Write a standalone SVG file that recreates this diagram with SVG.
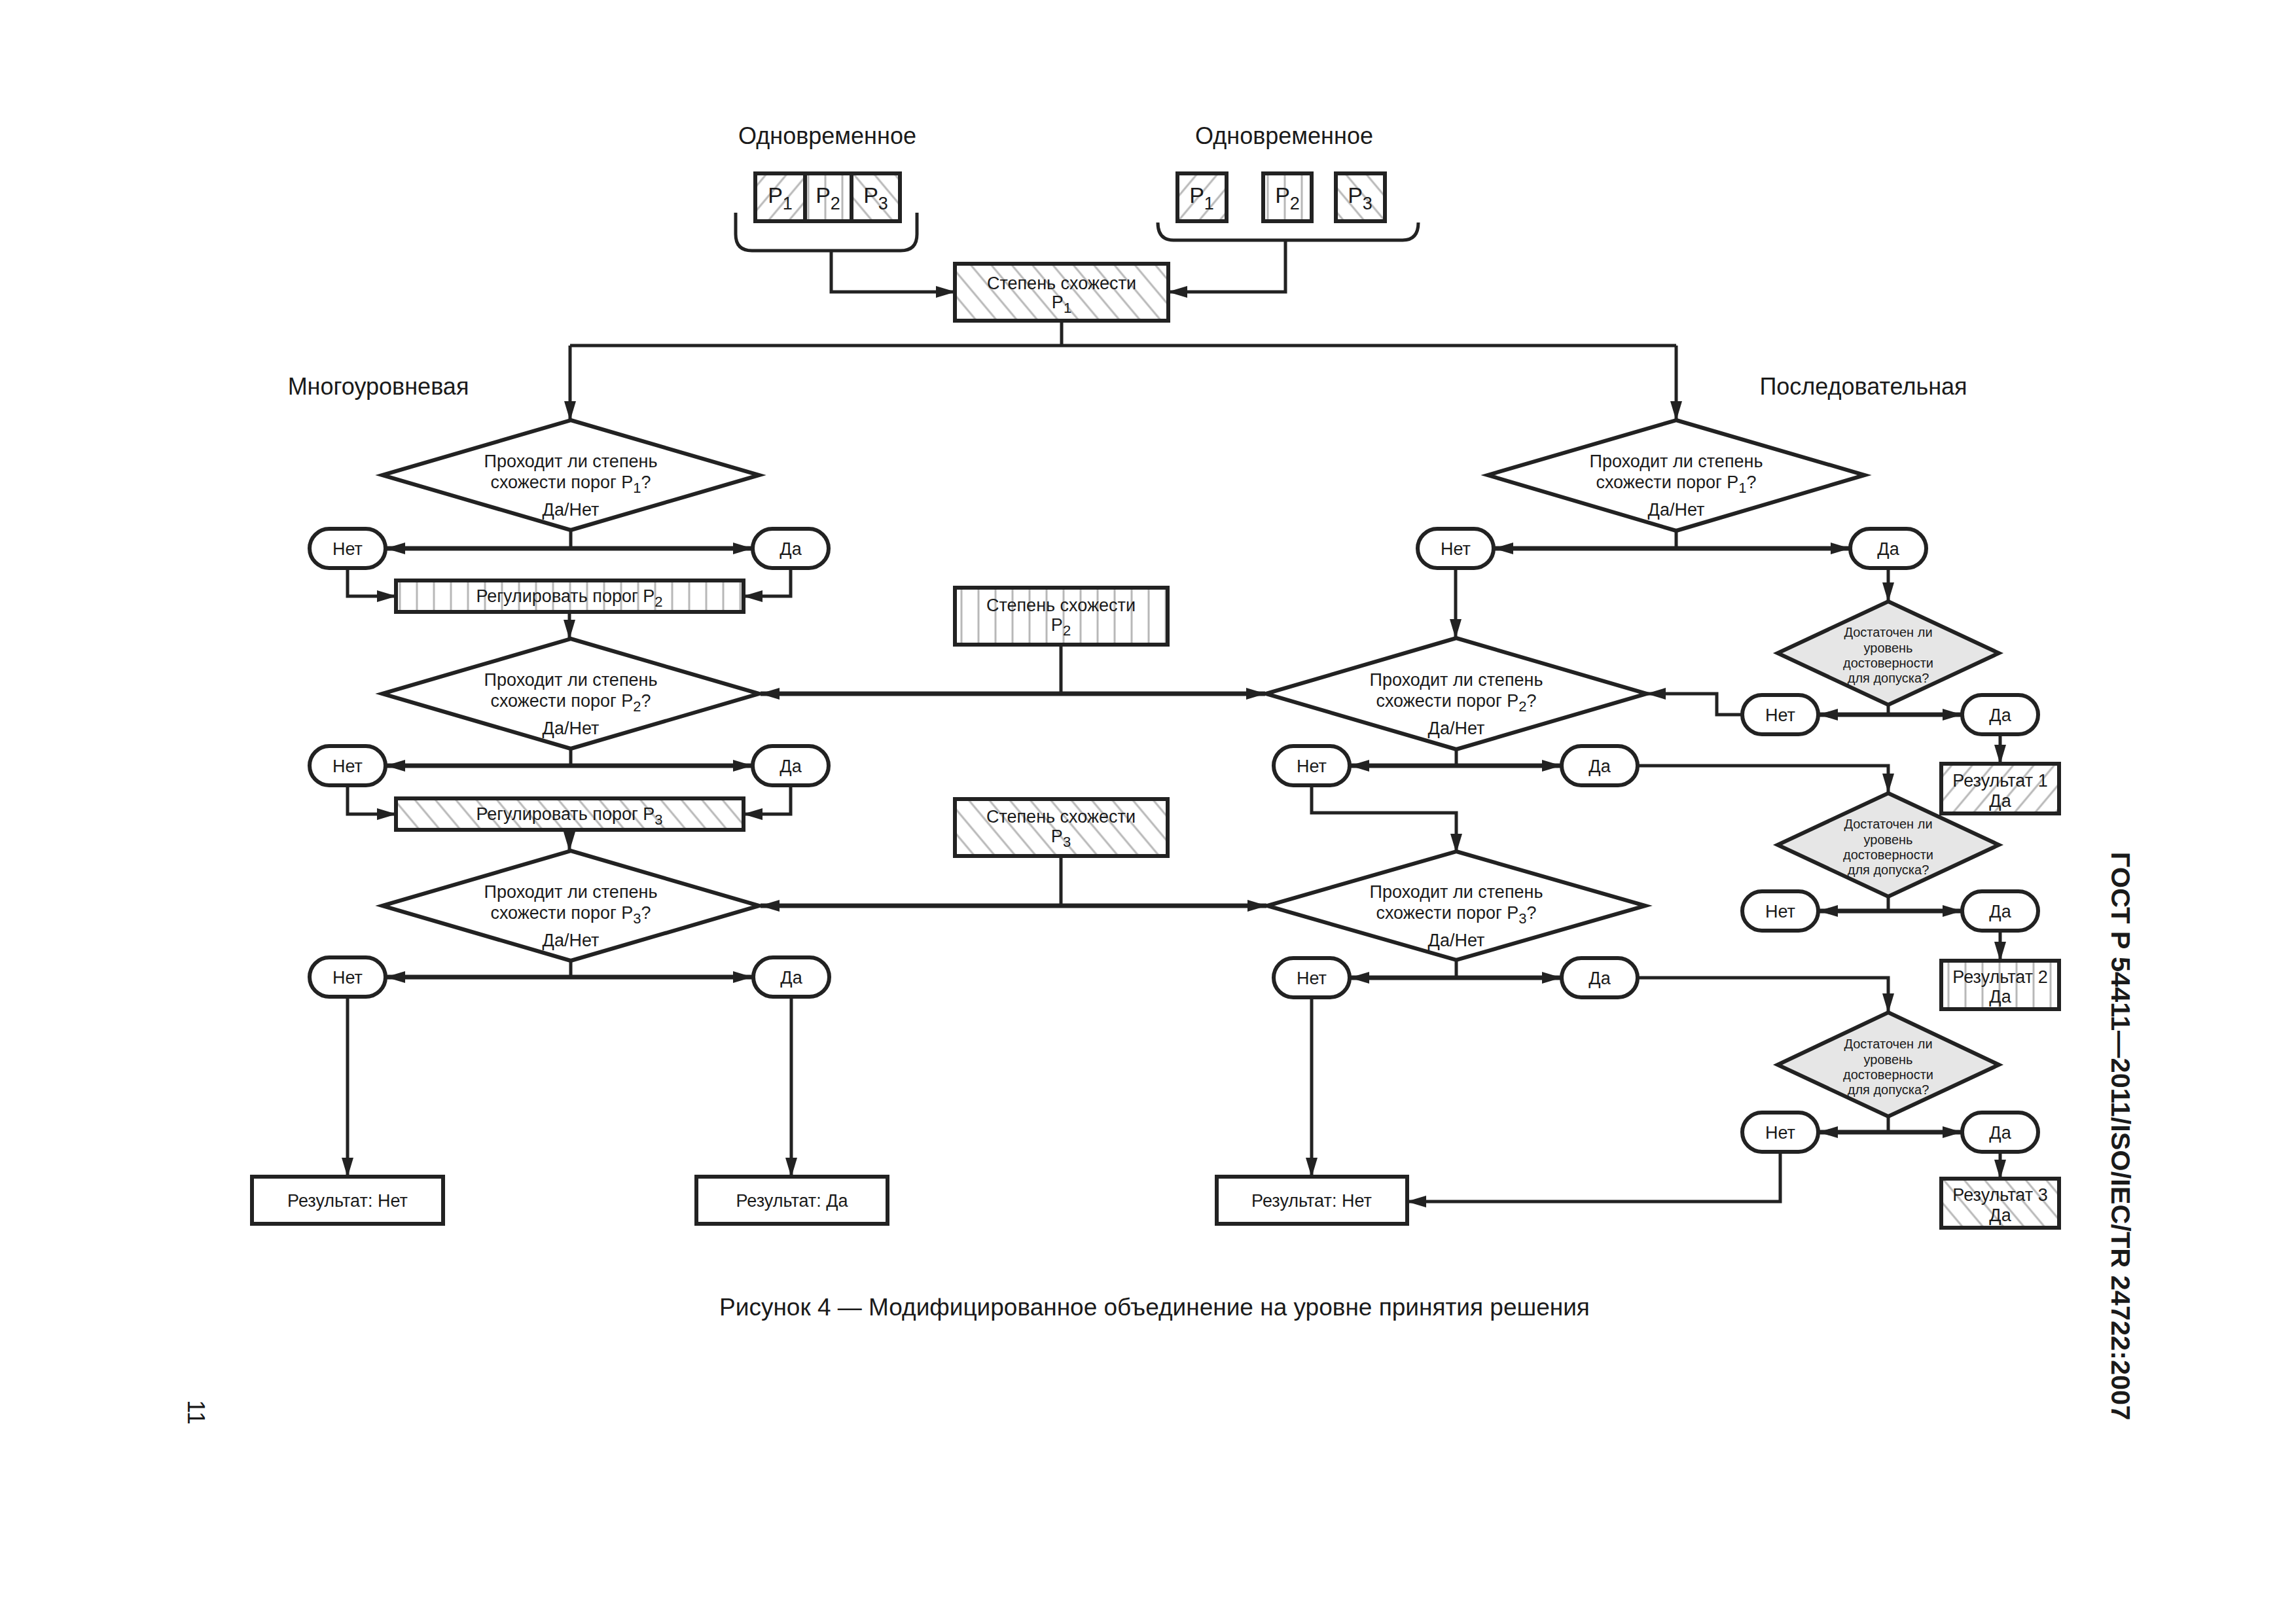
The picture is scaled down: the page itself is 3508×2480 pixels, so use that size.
<svg xmlns="http://www.w3.org/2000/svg" width="3508" height="2480" viewBox="0 0 3508 2480">
<style>
.sh{fill:#fff;stroke:#222;stroke-width:6}
.g{fill:#e6e6e6;stroke:#222;stroke-width:6}
.ln{fill:none;stroke:#222;stroke-width:5}
.lt{fill:none;stroke:#222;stroke-width:7}
.ar{marker-end:url(#ah)}
.ab{marker-start:url(#ah);marker-end:url(#ah)}
text{font-family:"Liberation Sans",Arial,sans-serif;fill:#1a1a1a}
.t{font-size:27px;text-anchor:middle}
.s{font-size:20px;text-anchor:middle}
.h{font-size:36px;text-anchor:middle}
.p{font-size:34px;text-anchor:middle}
.sub{font-size:22px}
.psub{font-size:27px}
</style>
<defs>
<marker id="ah" markerUnits="userSpaceOnUse" markerWidth="30" markerHeight="18" refX="29" refY="9" orient="auto-start-reverse"><path d="M0,0 L30,9 L0,18 z" fill="#222"/></marker>
<pattern id="hV" width="26" height="10" patternUnits="userSpaceOnUse"><line x1="13" y1="-1" x2="13" y2="11" stroke="#b8b8b8" stroke-width="3"/></pattern>
<pattern id="hF" width="24" height="24" patternUnits="userSpaceOnUse" patternTransform="rotate(40)"><line x1="12" y1="-1" x2="12" y2="25" stroke="#b8b8b8" stroke-width="3"/></pattern>
<pattern id="hB" width="24" height="24" patternUnits="userSpaceOnUse" patternTransform="rotate(-40)"><line x1="12" y1="-1" x2="12" y2="25" stroke="#b8b8b8" stroke-width="3"/></pattern>
</defs>
<rect width="3508" height="2480" fill="#fff"/>

<g id="labels">
<text class="h" x="1264" y="220">Одновременное</text>
<text class="h" x="1962" y="220">Одновременное</text>
<text class="h" x="578" y="603">Многоуровневая</text>
<text class="h" x="2847" y="603">Последовательная</text>
<text x="1764" y="2010" style="font-size:37px;text-anchor:middle">Рисунок 4 — Модифицированное объединение на уровне принятия решения</text>
<text transform="translate(3226,1736) rotate(90)" style="font-size:41.5px;font-weight:bold;text-anchor:middle">ГОСТ Р 54411—2011/ISO/IEC/TR 24722:2007</text>
<text transform="translate(287,2158) rotate(90)" style="font-size:36px;text-anchor:middle">11</text>
</g>

<g id="connectors">
<path class="ln" d="M1124,325 V358 Q1124,383 1149,383 H1376 Q1401,383 1401,358 V325"/>
<path class="ln" d="M1769,340 Q1769,367 1793,367 H2143 Q2167,367 2167,340"/>
<path class="ln ar" d="M1270,383 V446 H1459"/>
<path class="ln ar" d="M1964,367 V446 H1785"/>
<path class="ln" d="M1622,490 V528 M871,528 H2561"/>
<path class="ln ar" d="M871,528 V642"/>
<path class="ln ar" d="M2561,528 V642"/>

<path class="ln" d="M872,810 V838"/>
<path class="lt ab" d="M590,838 H1149"/>
<path class="ln ar" d="M531,868 V911 H605"/>
<path class="ln ar" d="M1208,868 V911 H1136"/>
<path class="ln ar" d="M870,935 V976"/>
<path class="ln" d="M872,1144 V1170"/>
<path class="lt ab" d="M590,1170 H1149"/>
<path class="ln ar" d="M531,1200 V1244 H605"/>
<path class="ln ar" d="M1208,1200 V1244 H1136"/>
<path class="ln ar" d="M870,1268 V1300"/>
<path class="ln" d="M872,1468 V1493"/>
<path class="lt ab" d="M590,1493 H1149"/>
<path class="ln ar" d="M531,1523 V1798"/>
<path class="ln ar" d="M1209,1523 V1798"/>

<path class="ln" d="M1621,985 V1060"/>
<path class="lt ab" d="M1162,1060 H1933"/>
<path class="ln" d="M1621,1308 V1384"/>
<path class="lt ab" d="M1162,1384 H1935"/>

<path class="ln" d="M2561,811 V838"/>
<path class="lt ab" d="M2283,838 H2826"/>
<path class="ln ar" d="M2224,868 V975"/>
<path class="ln ar" d="M2885,868 V919"/>
<path class="ln" d="M2885,1077 V1092"/>
<path class="lt ab" d="M2779,1092 H2997"/>
<path class="ln ar" d="M2662,1092 H2623 V1060 H2516"/>
<path class="ln ar" d="M3056,1122 V1167"/>
<path class="ln" d="M2225,1145 V1170"/>
<path class="lt ab" d="M2063,1170 H2385"/>
<path class="ln ar" d="M2502,1170 H2885 V1211"/>
<path class="ln ar" d="M2004,1200 V1242 H2225 V1303"/>
<path class="ln" d="M2885,1370 V1392"/>
<path class="lt ab" d="M2779,1392 H2997"/>
<path class="ln ar" d="M3056,1422 V1468"/>
<path class="ln" d="M2225,1467 V1494"/>
<path class="lt ab" d="M2063,1494 H2385"/>
<path class="ln ar" d="M2502,1494 H2885 V1547"/>
<path class="ln ar" d="M2004,1524 V1798"/>
<path class="ln" d="M2885,1706 V1730"/>
<path class="lt ab" d="M2779,1730 H2997"/>
<path class="ln ar" d="M2720,1760 V1836 H2150"/>
<path class="ln ar" d="M3056,1760 V1801"/>
</g>

<g id="sim-left">
<rect x="1154" y="265" width="76" height="73" class="sh" style="fill:url(#hF)"/>
<rect x="1230" y="265" width="71" height="73" class="sh" style="fill:url(#hV)"/>
<rect x="1301" y="265" width="74" height="73" class="sh" style="fill:url(#hB)"/>
<text class="p" x="1192" y="310">P<tspan class="psub" dy="10">1</tspan></text>
<text class="p" x="1265" y="310">P<tspan class="psub" dy="10">2</tspan></text>
<text class="p" x="1338" y="310">P<tspan class="psub" dy="10">3</tspan></text>
</g>
<g id="sim-right">
<rect x="1799" y="265" width="75" height="73" class="sh" style="fill:url(#hF)"/>
<rect x="1930" y="265" width="74" height="73" class="sh" style="fill:url(#hV)"/>
<rect x="2041" y="265" width="75" height="73" class="sh" style="fill:url(#hB)"/>
<text class="p" x="1836" y="310">P<tspan class="psub" dy="10">1</tspan></text>
<text class="p" x="1967" y="310">P<tspan class="psub" dy="10">2</tspan></text>
<text class="p" x="2078" y="310">P<tspan class="psub" dy="10">3</tspan></text>
</g>

<g id="score-p1">
<rect x="1459" y="403" width="326" height="87" class="sh" style="fill:url(#hB)"/>
<text class="t" x="1622" y="442">Степень схожести</text>
<text class="t" x="1622" y="471">P<tspan class="sub" dy="7">1</tspan></text>
</g>
<g id="score-p2">
<rect x="1459" y="898" width="325" height="87" class="sh" style="fill:url(#hV)"/>
<text class="t" x="1621" y="934">Степень схожести</text>
<text class="t" x="1621" y="964">P<tspan class="sub" dy="7">2</tspan></text>
</g>
<g id="score-p3">
<rect x="1459" y="1221" width="325" height="87" class="sh" style="fill:url(#hB)"/>
<text class="t" x="1621" y="1257">Степень схожести</text>
<text class="t" x="1621" y="1287">P<tspan class="sub" dy="7">3</tspan></text>
</g>

<g id="L-d1">
<polygon class="sh" points="872,642 1160,726 872,810 584,726"/>
<text class="t" x="872" y="714">Проходит ли степень</text>
<text class="t" x="872" y="746">схожести порог P<tspan class="sub" dy="7">1</tspan><tspan dy="-7">?</tspan></text>
<text class="t" x="872" y="788">Да/Нет</text>
</g>
<g id="L-no1"><rect class="sh" x="473" y="808" width="116" height="60" rx="30"/><text class="t" x="531" y="848">Нет</text></g>
<g id="L-yes1"><rect class="sh" x="1150" y="808" width="116" height="60" rx="30"/><text class="t" x="1208" y="848">Да</text></g>
<g id="L-adj2">
<rect x="605" y="887" width="531" height="48" class="sh" style="fill:url(#hV)"/>
<text class="t" x="870" y="920">Регулировать порог P<tspan class="sub" dy="7">2</tspan></text>
</g>
<g id="L-d2">
<polygon class="sh" points="872,976 1160,1060 872,1144 584,1060"/>
<text class="t" x="872" y="1048">Проходит ли степень</text>
<text class="t" x="872" y="1080">схожести порог P<tspan class="sub" dy="7">2</tspan><tspan dy="-7">?</tspan></text>
<text class="t" x="872" y="1122">Да/Нет</text>
</g>
<g id="L-no2"><rect class="sh" x="473" y="1140" width="116" height="60" rx="30"/><text class="t" x="531" y="1180">Нет</text></g>
<g id="L-yes2"><rect class="sh" x="1150" y="1140" width="116" height="60" rx="30"/><text class="t" x="1208" y="1180">Да</text></g>
<g id="L-adj3">
<rect x="605" y="1220" width="531" height="48" class="sh" style="fill:url(#hB)"/>
<text class="t" x="870" y="1253">Регулировать порог P<tspan class="sub" dy="7">3</tspan></text>
</g>
<g id="L-d3">
<polygon class="sh" points="872,1300 1160,1384 872,1468 584,1384"/>
<text class="t" x="872" y="1372">Проходит ли степень</text>
<text class="t" x="872" y="1404">схожести порог P<tspan class="sub" dy="7">3</tspan><tspan dy="-7">?</tspan></text>
<text class="t" x="872" y="1446">Да/Нет</text>
</g>
<g id="L-no3"><rect class="sh" x="473" y="1463" width="116" height="60" rx="30"/><text class="t" x="531" y="1503">Нет</text></g>
<g id="L-yes3"><rect class="sh" x="1151" y="1463" width="116" height="60" rx="30"/><text class="t" x="1209" y="1503">Да</text></g>
<g id="L-res-no"><rect class="sh" x="385" y="1798" width="292" height="72"/><text class="t" x="531" y="1844">Результат: Нет</text></g>
<g id="L-res-yes"><rect class="sh" x="1064" y="1798" width="292" height="72"/><text class="t" x="1210" y="1844">Результат: Да</text></g>

<g id="R-d1">
<polygon class="sh" points="2561,642 2849,726 2561,811 2273,726"/>
<text class="t" x="2561" y="714">Проходит ли степень</text>
<text class="t" x="2561" y="746">схожести порог P<tspan class="sub" dy="7">1</tspan><tspan dy="-7">?</tspan></text>
<text class="t" x="2561" y="788">Да/Нет</text>
</g>
<g id="R-no1"><rect class="sh" x="2166" y="808" width="116" height="60" rx="30"/><text class="t" x="2224" y="848">Нет</text></g>
<g id="R-yes1"><rect class="sh" x="2827" y="808" width="116" height="60" rx="30"/><text class="t" x="2885" y="848">Да</text></g>
<g id="R-d2">
<polygon class="sh" points="2225,975 2516,1060 2225,1145 1934,1060"/>
<text class="t" x="2225" y="1048">Проходит ли степень</text>
<text class="t" x="2225" y="1080">схожести порог P<tspan class="sub" dy="7">2</tspan><tspan dy="-7">?</tspan></text>
<text class="t" x="2225" y="1122">Да/Нет</text>
</g>
<g id="R-no2"><rect class="sh" x="1946" y="1140" width="116" height="60" rx="30"/><text class="t" x="2004" y="1180">Нет</text></g>
<g id="R-yes2"><rect class="sh" x="2386" y="1140" width="116" height="60" rx="30"/><text class="t" x="2444" y="1180">Да</text></g>
<g id="R-d3">
<polygon class="sh" points="2225,1301 2514,1384 2225,1467 1936,1384"/>
<text class="t" x="2225" y="1372">Проходит ли степень</text>
<text class="t" x="2225" y="1404">схожести порог P<tspan class="sub" dy="7">3</tspan><tspan dy="-7">?</tspan></text>
<text class="t" x="2225" y="1446">Да/Нет</text>
</g>
<g id="R-no3"><rect class="sh" x="1946" y="1464" width="116" height="60" rx="30"/><text class="t" x="2004" y="1504">Нет</text></g>
<g id="R-yes3"><rect class="sh" x="2386" y="1464" width="116" height="60" rx="30"/><text class="t" x="2444" y="1504">Да</text></g>
<g id="R-res-no"><rect class="sh" x="1859" y="1798" width="291" height="72"/><text class="t" x="2004" y="1844">Результат: Нет</text></g>

<g id="G1">
<polygon class="g" points="2885,919 3054,998 2885,1077 2716,998"/>
<text class="s" x="2885" y="973">Достаточен ли</text>
<text class="s" x="2885" y="997">уровень</text>
<text class="s" x="2885" y="1020">достоверности</text>
<text class="s" x="2885" y="1043">для допуска?</text>
</g>
<g id="G1-no"><rect class="sh" x="2662" y="1062" width="116" height="60" rx="30"/><text class="t" x="2720" y="1102">Нет</text></g>
<g id="G1-yes"><rect class="sh" x="2998" y="1062" width="116" height="60" rx="30"/><text class="t" x="3056" y="1102">Да</text></g>
<g id="res1">
<rect x="2966" y="1167" width="180" height="76" class="sh" style="fill:url(#hF)"/>
<text class="t" x="3056" y="1202">Результат 1</text>
<text class="t" x="3056" y="1233">Да</text>
</g>
<g id="G2">
<polygon class="g" points="2885,1212 3054,1291 2885,1370 2716,1291"/>
<text class="s" x="2885" y="1266">Достаточен ли</text>
<text class="s" x="2885" y="1290">уровень</text>
<text class="s" x="2885" y="1313">достоверности</text>
<text class="s" x="2885" y="1336">для допуска?</text>
</g>
<g id="G2-no"><rect class="sh" x="2662" y="1362" width="116" height="60" rx="30"/><text class="t" x="2720" y="1402">Нет</text></g>
<g id="G2-yes"><rect class="sh" x="2998" y="1362" width="116" height="60" rx="30"/><text class="t" x="3056" y="1402">Да</text></g>
<g id="res2">
<rect x="2966" y="1468" width="180" height="74" class="sh" style="fill:url(#hV)"/>
<text class="t" x="3056" y="1502">Результат 2</text>
<text class="t" x="3056" y="1532">Да</text>
</g>
<g id="G3">
<polygon class="g" points="2885,1547 3054,1627 2885,1706 2716,1627"/>
<text class="s" x="2885" y="1602">Достаточен ли</text>
<text class="s" x="2885" y="1626">уровень</text>
<text class="s" x="2885" y="1649">достоверности</text>
<text class="s" x="2885" y="1672">для допуска?</text>
</g>
<g id="G3-no"><rect class="sh" x="2662" y="1700" width="116" height="60" rx="30"/><text class="t" x="2720" y="1740">Нет</text></g>
<g id="G3-yes"><rect class="sh" x="2998" y="1700" width="116" height="60" rx="30"/><text class="t" x="3056" y="1740">Да</text></g>
<g id="res3">
<rect x="2966" y="1801" width="180" height="75" class="sh" style="fill:url(#hB)"/>
<text class="t" x="3056" y="1835">Результат 3</text>
<text class="t" x="3056" y="1866">Да</text>
</g>
</svg>
